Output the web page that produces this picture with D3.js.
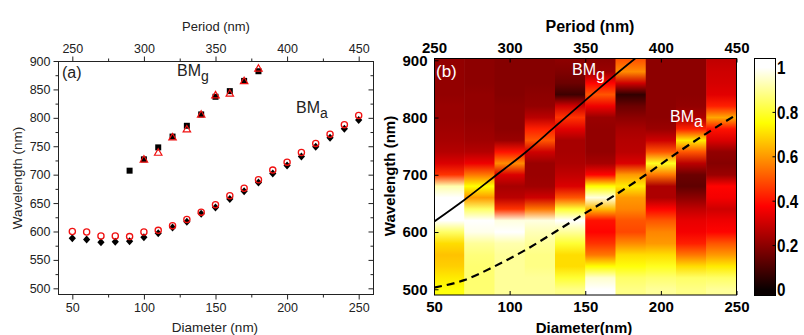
<!DOCTYPE html>
<html>
<head>
  <title>Bloch modes: wavelength vs diameter</title>
  <style>
    body { margin: 0; background: #fff; }
    svg text { font-family: "Liberation Sans", Arial, sans-serif; }
  </style>
</head>
<body>
  <svg id="fig" width="804" height="335"></svg>

  <script src="https://d3js.org/d3.v7.min.js"></script>
  <script>
    // ---------- panel (a) data ----------
    const bmgSimDiam = [90, 100, 110, 120, 130, 140, 150, 160, 170, 180];
    const bmgSimWl   = [707, 727, 748, 767, 786, 806, 837, 847, 865, 882];
    const bmgExpDiam = [100, 110, 120, 130, 140, 150, 160, 170, 180];
    const bmgExpWl   = [727, 739, 766, 780, 806, 840, 843, 865, 887];

    const bmaDiam  = [50, 60, 70, 80, 90, 100, 110, 120, 130, 140, 150, 160, 170, 180, 190, 200, 210, 220, 230, 240, 250];
    const bmaSimWl = [588, 586, 581, 582, 583, 590, 597, 607, 617, 631, 642, 657, 671, 686, 702, 716, 732, 749, 765, 781, 796];
    const bmaExpWl = [600, 599, 592, 592, 591, 599, 602, 610, 621, 634, 647, 663, 676, 691, 708, 722, 739, 755, 771, 788, 804];

    const aYTicks = [500, 550, 600, 650, 700, 750, 800, 850, 900];
    const aYMinor = [525, 575, 625, 675, 725, 775, 825, 875];
    const aXTicks = [50, 100, 150, 200, 250];
    const aXMinor = [75, 125, 175, 225];
    const periodTicks = [250, 300, 350, 400, 450];
    const periodMinor = [275, 325, 375, 425];

    // ---------- panel (b) data ----------
    // columns of the map: diameter bins (centre, 20 nm wide)
    const mapDiam = [60, 80, 100, 120, 140, 160, 180, 200, 220, 240];
    const mapWl = [900, 880, 860, 840, 820, 800, 780, 760, 740, 720, 700, 680, 660, 640, 620, 600, 580, 560, 540, 520, 500];
    // normalised intensity, one array per column, rows follow mapWl
    const mapValues = [
      [.21, .21, .21, .21, .22, .22, .23, .24, .26, .32, .45, .92, 1, 1, 1, .85, .7, .66, .68, .72, .76],
      [.2, .2, .2, .21, .21, .21, .22, .23, .26, .35, .55, .75, .6, .85, 1, .98, .9, .87, .86, .86, .86],
      [.19, .19, .19, .19, .2, .2, .2, .22, .4, .58, .32, .24, .27, .45, .97, 1, .92, .9, .9, .9, .9],
      [.19, .19, .19, .2, .21, .27, .42, .5, .3, .22, .22, .23, .3, .55, .97, .93, .9, .88, .88, .9, .9],
      [.2, .18, .15, .08, .3, .45, .33, .24, .24, .25, .28, .32, .5, .8, 1, .9, .8, .7, .7, .8, .88],
      [.2, .22, .38, .5, .35, .22, .21, .21, .21, .24, .38, .75, .97, .65, .4, .38, .45, .55, .75, .95, 1],
      [.5, .58, .3, .06, .15, .2, .24, .26, .27, .32, .6, .72, .6, .57, .5, .48, .58, .7, .76, .85, .88],
      [.2, .2, .2, .2, .2, .2, .22, .3, .5, .78, .55, .25, .25, .38, .5, .57, .6, .7, .78, .86, .9],
      [.2, .2, .2, .2, .21, .25, .42, .72, .5, .27, .15, .13, .2, .28, .34, .36, .42, .55, .7, .85, .88],
      [.28, .3, .31, .33, .42, .62, .4, .32, .21, .19, .22, .38, .36, .3, .35, .38, .5, .6, .72, .85, .9]
    ];
    const bmgLineDiam = [50, 70, 90, 110, 130, 150, 170, 190];
    const bmgLineWl   = [618, 656, 697, 738, 784, 830, 875, 918];
    const bmaLineDiam = [50, 70, 90, 110, 130, 150, 170, 190, 210, 230, 250];
    const bmaLineWl   = [503, 516, 540, 568, 600, 633, 665, 700, 737, 772, 805];

    const bYTicks = [500, 600, 700, 800, 900];
    const bXTicks = [50, 100, 150, 200, 250];
    const cbarTicks = [0, 0.2, 0.4, 0.6, 0.8, 1];

    const svg = d3.select("#fig");

    // ================= panel (a) =================
    const xa = d3.scaleLinear().domain([40, 260]).range([58, 373]);
    const pa = d3.scaleLinear().domain([240, 460]).range([58, 373]);
    const ya = d3.scaleLinear().domain([490, 900]).range([294, 61]);
    const ink = "#222";

    function tidy(g, size) {
      g.select(".domain").remove();
      g.selectAll("line").attr("stroke", ink);
      g.selectAll("text").attr("fill", ink).style("font-size", size);
    }

    const ga = svg.append("g");
    ga.append("rect")
      .attr("x", 58.5).attr("y", 61.5).attr("width", 315).attr("height", 233)
      .attr("fill", "none").attr("stroke", ink);

    // left
    ga.append("g").attr("transform", "translate(58.5,0)")
      .call(d3.axisLeft(ya).tickValues(aYTicks).tickSize(5).tickPadding(3))
      .call(g => tidy(g, "12.5px"));
    ga.append("g").attr("transform", "translate(58.5,0)")
      .call(d3.axisLeft(ya).tickValues(aYMinor).tickSize(3).tickFormat(""))
      .call(g => tidy(g));
    // right (ticks inside, no labels)
    ga.append("g").attr("transform", "translate(373.5,0)")
      .call(d3.axisLeft(ya).tickValues(aYTicks).tickSize(5).tickFormat(""))
      .call(g => tidy(g));
    ga.append("g").attr("transform", "translate(373.5,0)")
      .call(d3.axisLeft(ya).tickValues(aYMinor).tickSize(3).tickFormat(""))
      .call(g => tidy(g));
    // bottom
    ga.append("g").attr("transform", "translate(0,294.5)")
      .call(d3.axisBottom(xa).tickValues(aXTicks).tickSize(5).tickPadding(4))
      .call(g => tidy(g, "12.5px"));
    ga.append("g").attr("transform", "translate(0,294.5)")
      .call(d3.axisBottom(xa).tickValues(aXMinor).tickSize(3).tickFormat(""))
      .call(g => tidy(g));
    // top (period)
    ga.append("g").attr("transform", "translate(0,61.5)")
      .call(d3.axisTop(pa).tickValues(periodTicks).tickSize(5).tickPadding(4))
      .call(g => tidy(g, "12.5px"));
    ga.append("g").attr("transform", "translate(0,61.5)")
      .call(d3.axisTop(pa).tickValues(periodMinor).tickSize(3).tickFormat(""))
      .call(g => tidy(g));

    ga.append("text").attr("x", 216).attr("y", 31).attr("text-anchor", "middle")
      .attr("fill", ink).style("font-size", "13px").text("Period (nm)");
    ga.append("text").attr("x", 215).attr("y", 332).attr("text-anchor", "middle")
      .attr("fill", ink).style("font-size", "13.5px").text("Diameter (nm)");
    ga.append("text").attr("transform", "translate(22,178) rotate(-90)").attr("text-anchor", "middle")
      .attr("fill", ink).style("font-size", "13.5px").text("Wavelength (nm)");

    ga.append("text").attr("x", 62).attr("y", 78).attr("fill", ink)
      .style("font-size", "16px").text("(a)");
    const tg = ga.append("text").attr("x", 177).attr("y", 76).attr("fill", ink).style("font-size", "16px");
    tg.append("tspan").text("BM");
    tg.append("tspan").attr("dy", 5).style("font-size", "14px").text("g");
    const ta = ga.append("text").attr("x", 296).attr("y", 113).attr("fill", ink).style("font-size", "16px");
    ta.append("tspan").text("BM");
    ta.append("tspan").attr("dy", 5).style("font-size", "14px").text("a");

    // markers
    const sq = d3.symbol().type(d3.symbolSquare).size(36);
    const tri = d3.symbol().type(d3.symbolTriangle).size(24);
    const diamondPath = "M0,-4L3.6,0L0,4L-3.6,0Z";

    ga.append("g").selectAll("path").data(bmgSimDiam).join("path")
      .attr("transform", (d, i) => `translate(${xa(d)},${ya(bmgSimWl[i])})`)
      .attr("d", sq).attr("fill", "#000");
    ga.append("g").selectAll("path").data(bmgExpDiam).join("path")
      .attr("transform", (d, i) => `translate(${xa(d)},${ya(bmgExpWl[i]) + 0.6})`)
      .attr("d", tri).attr("fill", "none").attr("stroke", "#f01010").attr("stroke-width", 1.2);
    ga.append("g").selectAll("path").data(bmaDiam).join("path")
      .attr("transform", (d, i) => `translate(${xa(d)},${ya(bmaSimWl[i])})`)
      .attr("d", diamondPath).attr("fill", "#000");
    ga.append("g").selectAll("circle").data(bmaDiam).join("circle")
      .attr("cx", d => xa(d)).attr("cy", (d, i) => ya(bmaExpWl[i]))
      .attr("r", 3.1).attr("fill", "none").attr("stroke", "#f01010").attr("stroke-width", 1.3);

    // ================= panel (b) =================
    const xb = d3.scaleLinear().domain([50, 250]).range([434, 736.5]);
    const pb = d3.scaleLinear().domain([250, 450]).range([434, 736.5]);
    const yb = d3.scaleLinear().domain([490, 904]).range([295, 58]);
    const hot = d3.scaleLinear().domain([0, 0.375, 0.75, 1])
      .range(["#0a0000", "#ff0000", "#ffff00", "#ffffff"]).clamp(true);

    const defs = svg.append("defs");
    defs.append("clipPath").attr("id", "clipB").append("rect")
      .attr("x", 434).attr("y", 58).attr("width", 302.5).attr("height", 237);

    const gb = svg.append("g");
    const mapG = gb.append("g").attr("clip-path", "url(#clipB)");
    const colW = xb(70) - xb(50);

    mapDiam.forEach((d, ci) => {
      const id = "col" + ci;
      const grad = defs.append("linearGradient").attr("id", id)
        .attr("gradientUnits", "userSpaceOnUse")
        .attr("x1", 0).attr("x2", 0)
        .attr("y1", yb(mapWl[0])).attr("y2", yb(mapWl[mapWl.length - 1]));
      const span = yb(mapWl[mapWl.length - 1]) - yb(mapWl[0]);
      mapValues[ci].forEach((v, ri) => {
        grad.append("stop")
          .attr("offset", (yb(mapWl[ri]) - yb(mapWl[0])) / span)
          .attr("stop-color", hot(v));
      });
      mapG.append("rect")
        .attr("x", xb(d) - colW / 2).attr("y", 58)
        .attr("width", colW + 0.6).attr("height", 237)
        .attr("fill", `url(#${id})`);
    });

    const lineB = (xs, ys) => d3.line().curve(d3.curveMonotoneX)
      .x((d, i) => xb(xs[i])).y((d, i) => yb(ys[i]))(xs);
    mapG.append("path").attr("d", lineB(bmgLineDiam, bmgLineWl))
      .attr("fill", "none").attr("stroke", "#000").attr("stroke-width", 1.8);
    mapG.append("path").attr("d", lineB(bmaLineDiam, bmaLineWl))
      .attr("fill", "none").attr("stroke", "#000").attr("stroke-width", 2.2)
      .attr("stroke-dasharray", "8,5");

    gb.append("rect")
      .attr("x", 434.5).attr("y", 58.5).attr("width", 302).attr("height", 236.5)
      .attr("fill", "none").attr("stroke", "#000");

    function tidyB(g) {
      g.select(".domain").remove();
      g.selectAll("line").attr("stroke", "#000");
      g.selectAll("text").attr("fill", "#000").style("font-size", "15px").style("font-weight", "bold");
    }
    gb.append("g").attr("transform", "translate(434.5,0)")
      .call(d3.axisLeft(yb).tickValues(bYTicks).tickSizeInner(-4).tickSizeOuter(0).tickPadding(7))
      .call(tidyB);
    gb.append("g").attr("transform", "translate(0,295)")
      .call(d3.axisBottom(xb).tickValues(bXTicks).tickSizeInner(-4).tickSizeOuter(0).tickPadding(6))
      .call(tidyB);
    gb.append("g").attr("transform", "translate(0,58.5)")
      .call(d3.axisTop(pb).tickValues(periodTicks).tickSizeInner(-4).tickSizeOuter(0).tickPadding(6))
      .call(tidyB);

    gb.append("text").attr("x", 590).attr("y", 32).attr("text-anchor", "middle")
      .style("font-size", "16px").style("font-weight", "bold").text("Period (nm)");
    gb.append("text").attr("x", 584).attr("y", 333).attr("text-anchor", "middle")
      .style("font-size", "15px").style("font-weight", "bold").text("Diameter(nm)");
    gb.append("text").attr("transform", "translate(395,176) rotate(-90)").attr("text-anchor", "middle")
      .style("font-size", "15px").style("font-weight", "bold").text("Wavelength (nm)");

    gb.append("text").attr("x", 436).attr("y", 77).attr("fill", "#fff")
      .style("font-size", "17px").text("(b)");
    const wg = gb.append("text").attr("x", 572).attr("y", 75).attr("fill", "#fff").style("font-size", "16px");
    wg.append("tspan").text("BM");
    wg.append("tspan").attr("dy", 5).text("g");
    const wa = gb.append("text").attr("x", 670).attr("y", 122).attr("fill", "#fff").style("font-size", "16px");
    wa.append("tspan").text("BM");
    wa.append("tspan").attr("dy", 5).text("a");

    // colour bar
    const yc = d3.scaleLinear().domain([0, 1]).range([289.5, 67.5]);
    const cg = defs.append("linearGradient").attr("id", "cbar")
      .attr("gradientUnits", "userSpaceOnUse")
      .attr("x1", 0).attr("x2", 0).attr("y1", yc(0)).attr("y2", yc(1));
    hot.domain().forEach(v => {
      cg.append("stop").attr("offset", v).attr("stop-color", hot(v));
    });
    gb.append("rect").attr("x", 754.5).attr("y", 58.5).attr("width", 21).attr("height", 237)
      .attr("fill", "url(#cbar)").attr("stroke", "#000");
    gb.append("g").attr("transform", "translate(775.5,0)")
      .call(d3.axisLeft(yc).tickValues(cbarTicks.slice(1, -1)).tickSize(3).tickFormat(""))
      .call(g => { g.select(".domain").remove(); g.selectAll("line").attr("stroke", "#000"); });
    gb.append("g").selectAll("text").data(cbarTicks).join("text")
      .attr("transform", d => `translate(777,${yc(d)}) scale(0.8,1)`)
      .attr("dy", "0.36em")
      .style("font-size", "19px").style("font-weight", "bold")
      .text(d => d3.format("~g")(d));
  </script>
</body>
</html>
